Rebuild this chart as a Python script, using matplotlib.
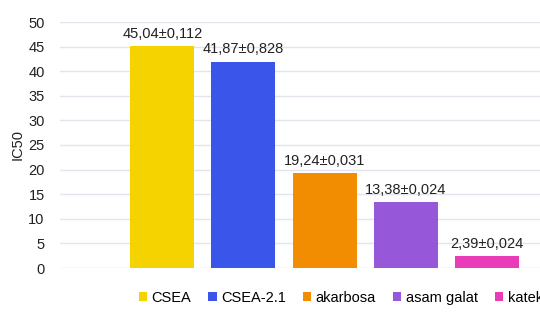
import matplotlib
matplotlib.use('Agg')
import matplotlib.pyplot as plt

plt.rcParams['font.family'] = ['Liberation Sans', 'DejaVu Sans']

# Data
samples = ['CSEA', 'CSEA-2.1', 'akarbosa', 'asam galat', 'katekin']
ic50 = [45.04, 41.87, 19.24, 13.38, 2.39]
labels = ['45,04±0,112', '41,87±0,828', '19,24±0,031', '13,38±0,024', '2,39±0,024']
colors = ['#F5D300', '#3A55EA', '#F28C00', '#9658D8', '#E83CB8']

fig = plt.figure(figsize=(5.4, 3.12), dpi=100)
ax = fig.add_axes([60/540, 1 - 268/312, 480/540, (268 - 22)/312])

xs = list(range(len(samples)))
bars = ax.bar(xs, ic50, width=0.79, color=colors, label=samples, zorder=3)

for x, v, t in zip(xs, ic50, labels):
    ax.annotate(t, (x, v), xytext=(0, 4), textcoords='offset points',
                ha='center', va='bottom', fontsize=10.5, color='#222222')

ax.set_ylim(0, 50)
ax.set_yticks(range(0, 51, 5))
ax.set_xlim(-1.265, 4.66)
ax.set_xticks([])
ax.grid(axis='y', color='#E4E4EC', linewidth=1, zorder=0)
for s in ax.spines.values():
    s.set_visible(False)
ax.tick_params(axis='y', length=0, labelsize=10.5, labelcolor='#222222', pad=11)
ax.set_ylabel('IC50', fontsize=10.5, color='#222222', labelpad=3)

fig.legend(handles=bars, labels=samples, loc='center left',
           bbox_to_anchor=(133/540, 1 - 298/312), ncol=5, frameon=False,
           fontsize=10.5, handlelength=0.55, handleheight=0.55,
           handletextpad=0.3, columnspacing=1.2, borderaxespad=0)

fig.savefig('out.png', dpi=100)
